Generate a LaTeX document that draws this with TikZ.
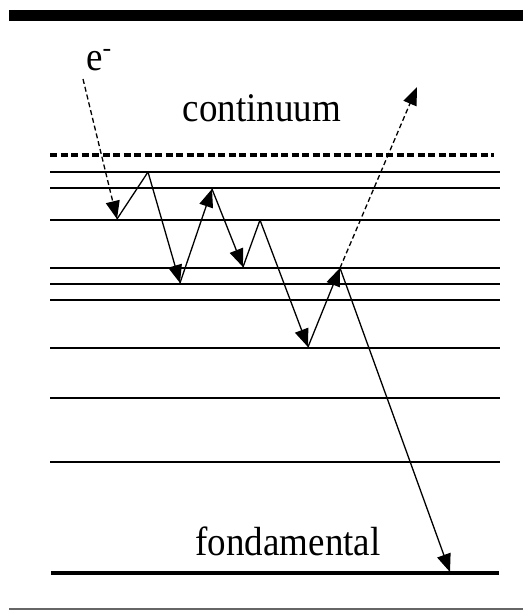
\documentclass[tikz,border=0pt]{standalone}
\usepackage{fontspec}
\setmainfont{Liberation Serif}
\usetikzlibrary{arrows.meta}
\begin{document}
\begin{tikzpicture}[x=1pt,y=-1pt,
  level/.style={line width=1.5pt},
  ground/.style={line width=3.2pt},
  hop/.style={line width=1.3pt},
  hoparrow/.style={hop,-{Triangle[length=18pt,width=14pt]}},
  free/.style={hoparrow,dash pattern=on 5pt off 3pt},
  lbl/.style={font=\fontsize{37}{40}\selectfont, inner sep=0pt, anchor=base}]
\useasboundingbox (0,0) rectangle (523,611);
\fill[white] (0,0) rectangle (523,611);
% frame lines
\draw[line width=11pt] (9,15.5) -- (523,15.5);
\draw[line width=2pt, black!60] (9,609) -- (523,609);
% continuum limit
\draw[line width=3.5pt, dash pattern=on 7pt off 3.5pt] (50,155) -- (494,155);
% levels
\foreach \y in {172,188,220,268,284,300,348,398,462}
  \draw[level] (50,\y) -- (500,\y);
\draw[ground] (51,573) -- (499,573);
% labels
\node[lbl] (cont) at (262,121) {\scalebox{1}[1.1]{continuum}};
\node[lbl] (fond) at (288,555) {\scalebox{1}[1.1]{fondamental}};
\node[lbl, anchor=base west] (el) at (86,70) {\scalebox{1}[1.1]{e}\raisebox{4pt}{\textsuperscript{-}}};
% points
\coordinate (p0) at (83,79);
\coordinate (p1) at (117,219);
\coordinate (p2) at (148,172);
\coordinate (p3) at (180,283);
\coordinate (p4) at (212,189);
\coordinate (p5) at (243,267);
\coordinate (p6) at (260,220);
\coordinate (p7) at (308,347);
\coordinate (p8) at (340,268);
\coordinate (out) at (417,87);
\coordinate (gs) at (450,572);
% path
\draw[free] (p0) -- (p1);
\draw[hop] (p1) -- (p2);
\draw[hoparrow] (p2) -- (p3);
\draw[hoparrow] (p3) -- (p4);
\draw[hoparrow] (p4) -- (p5);
\draw[hop] (p5) -- (p6);
\draw[hoparrow] (p6) -- (p7);
\draw[hoparrow] (p7) -- (p8);
\draw[free] (p8) -- (out);
\draw[hoparrow] (p8) -- (gs);
\end{tikzpicture}
\end{document}
